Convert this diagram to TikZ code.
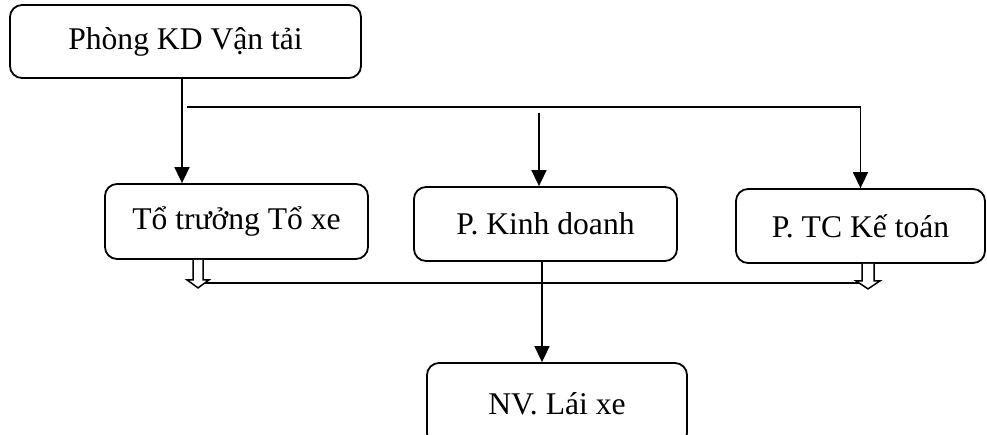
\documentclass[tikz,border=0pt]{standalone}
\usepackage{fontspec}
\setmainfont{Liberation Serif}
\usetikzlibrary{arrows.meta}
\begin{document}
\begin{tikzpicture}[x=1pt,y=-1pt,
  box/.style={draw,line width=1.8pt,rounded corners=12pt,inner sep=0pt,
    font=\fontsize{31.6}{38}\selectfont},
  link/.style={line width=1.6pt},
  arr/.style={link,-{Triangle[length=16pt,width=15pt]}},
  hollow/.style={draw,line width=1.5pt,fill=white,line join=miter}]
\clip (0,0) rectangle (987,434);
% boxes
\node[box,minimum width=351pt,minimum height=73pt] (A) at (185.5,41.5) {Phòng KD Vận tải};
\node[box,minimum width=263pt,minimum height=75pt] (B) at (236.5,221.5) {Tổ trưởng Tổ xe};
\node[box,minimum width=263pt,minimum height=74pt] (C) at (545.5,224) {P. Kinh doanh};
\node[box,minimum width=249pt,minimum height=74pt] (D) at (860.5,226) {P. TC Kế toán};
\node[box,minimum width=260pt,minimum height=82pt] (E) at (557,404) {NV. Lái xe};
% guide coordinates for the connectors
\coordinate (down) at (182,0);
\coordinate (split) at (187,107);
\coordinate (mid) at (539,113);
\coordinate (low) at (542,0);
\coordinate (hl) at (198,283);
\coordinate (hr) at (868,283);
% upper connectors
\draw[arr] (A.south -| down) -- (B.north -| down);
\draw[link] (split) -| (D.north);
\draw[arr] (split -| D.north) ++(0,-1) -- (D.north);
\draw[arr] (mid) -- (C.north -| mid);
% lower connectors
\draw[arr] (C.south -| low) -- (E.north -| low);
\draw[link] (hl) -- (hr);
\draw[hollow] (B.south -| hl) ++(-5,0) -- ++(0,20) -- ++(-6,0) -- ++(11,8)
  -- ++(11,-8) -- ++(-6,0) -- ++(0,-20);
\draw[hollow] (D.south -| hr) ++(-6,0) -- ++(0,17) -- ++(-6,0) -- ++(12,8)
  -- ++(12,-8) -- ++(-6,0) -- ++(0,-17);
\end{tikzpicture}
\end{document}
